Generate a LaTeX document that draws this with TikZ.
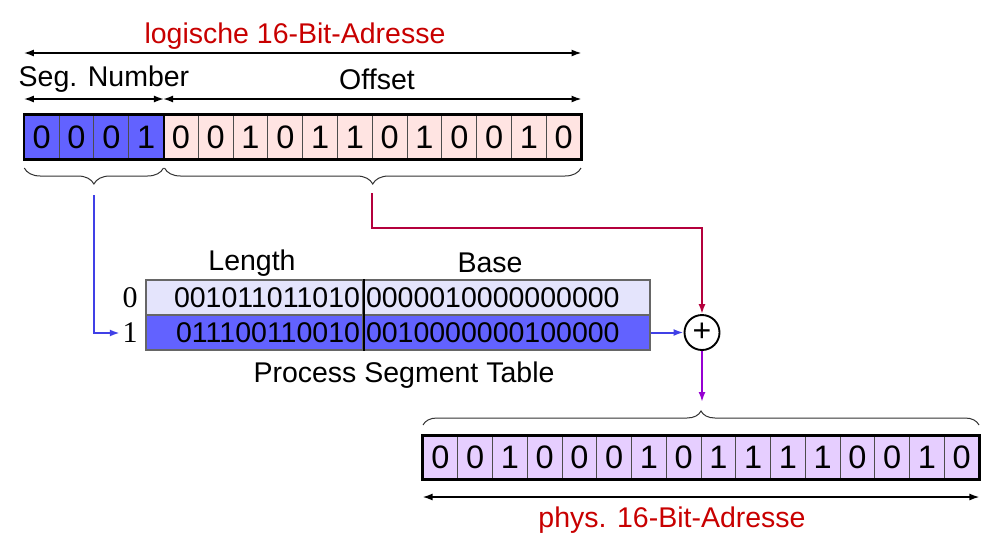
\documentclass[tikz,border=0pt]{standalone}
\usepackage{fontspec}
\setmainfont{Liberation Sans}
\newfontfamily\serifnum{Liberation Serif}
\usetikzlibrary{arrows.meta,decorations.pathreplacing}
\definecolor{segblue}{RGB}{98,98,255}
\definecolor{offpink}{RGB}{255,228,226}
\definecolor{rowlav}{RGB}{228,228,252}
\definecolor{physlil}{RGB}{230,206,255}
\definecolor{titlered}{RGB}{200,0,0}
\definecolor{linered}{RGB}{180,0,60}
\definecolor{lineblue}{RGB}{64,64,230}
\definecolor{linepurple}{RGB}{150,0,210}
\begin{document}
\begin{tikzpicture}[x=1pt,y=-1pt,
  bit/.style={draw=black!70, line width=0.9pt, minimum width=34.8pt, minimum height=44pt, inner sep=0pt, font=\fontsize{32.5}{32}\selectfont},
  lbl/.style={inner sep=0pt, font=\fontsize{28.5}{30}\selectfont},
  dim/.style={line width=1.6pt, {Latex[length=10pt,width=7pt]}-{Latex[length=10pt,width=7pt]}},
  conn/.style={line width=2pt, -{Latex[length=10pt,width=7pt]}},
  brc/.style={decorate, draw=black!80, line width=1pt},
  tcell/.style={draw=black!60, line width=1.3pt, minimum height=35pt, inner xsep=3pt, inner ysep=0pt, font=\fontsize{28.5}{28}\selectfont},
  idx/.style={inner sep=2.5pt, font=\serifnum\fontsize{30}{30}\selectfont}
]
\useasboundingbox (0,0) rectangle (1007,539);
\coordinate (y53) at (0,53);
\coordinate (y99) at (0,99);
\coordinate (y497) at (0,497);

% logical address bits
\foreach \b [count=\i] in {0,0,0,1,0,0,1,0,1,1,0,1,0,0,1,0} {
  \ifnum\i<5 \def\fc{segblue}\else\def\fc{offpink}\fi
  \node[bit, fill=\fc] (t\i) at ({24.3+34.8*(\i-0.5)},137) {\b};
}
\draw[line width=2.2pt] (t1.north west) rectangle (t16.south east);
\draw[line width=2pt] (t4.north east) -- (t4.south east);

\node[lbl, text=titlered] (title) at (295,36) {logische 16-Bit-Adresse};
\draw[dim] (t1.west |- y53) -- (t16.east |- y53);
\node[lbl] (segn) at (104,79) {Seg. Number};
\node[lbl] (offs) at (377,79) {Offset};
\draw[dim] (t1.west |- y99) -- (t4.east |- y99);
\draw[dim] (t5.west |- y99) -- (t16.east |- y99);

% braces under logical address
\draw[brc, decoration={brace, mirror, amplitude=16pt}] (24.3,168) -- (163.5,168);
\draw[brc, decoration={brace, mirror, amplitude=16pt}] (164.5,168) -- (581,168);

% segment table
\node[lbl] (hlen) at (252,263) {Length};
\node[lbl] (hbase) at (490,263) {Base};
\node[tcell, fill=rowlav, minimum width=217pt, text width=211pt, align=right] (r0l) at (254.5,297.5) {001011011010};
\node[tcell, fill=rowlav, minimum width=287pt, text width=281pt, align=left] (r0b) at (506.5,297.5) {0000010000000000};
\node[tcell, fill=segblue, minimum width=217pt, text width=211pt, align=right] (r1l) at (254.5,332.5) {011100110010};
\node[tcell, fill=segblue, minimum width=287pt, text width=281pt, align=left] (r1b) at (506.5,332.5) {0010000000100000};
\draw[line width=2pt] (r0l.north east) -- (r1l.south east);
\node[idx] (i0) at (130,298) {0};
\node[idx] (i1) at (130,333) {1};
\node[lbl] (pst) at (404,375) {Process Segment Table};

% adder
\node[circle, draw, fill=white, line width=1.9pt, minimum size=35pt, inner sep=0pt, font=\fontsize{32}{32}\selectfont] (sum) at (702,332.5) {+};

% connectors
\coordinate (bs) at (93.5,195);
\draw[conn, lineblue] (bs) |- (i1.west);
\coordinate (rs) at (372,193);
\coordinate (rc) at (372,228);
\draw[conn, linered] (rs) -- (rc) -| (sum.north);
\draw[conn, lineblue] (r1b.east) -- (sum.west);
\coordinate (pe) at (702,402);
\draw[conn, linepurple] (sum.south) -- (pe);

% physical address
\draw[brc, decoration={brace, amplitude=14pt}] (423,425) -- (979,425);
\foreach \b [count=\i] in {0,0,1,0,0,0,1,0,1,1,1,1,0,0,1,0} {
  \node[bit, fill=physlil, minimum width=34.75pt, minimum height=43pt] (p\i) at ({423+34.75*(\i-0.5)},457.5) {\b};
}
\draw[line width=2.2pt] (p1.north west) rectangle (p16.south east);
\draw[dim] (p1.west |- y497) -- (p16.east |- y497);
\node[lbl, text=titlered] (phys) at (672,520) {phys. 16-Bit-Adresse};
\end{tikzpicture}
\end{document}
